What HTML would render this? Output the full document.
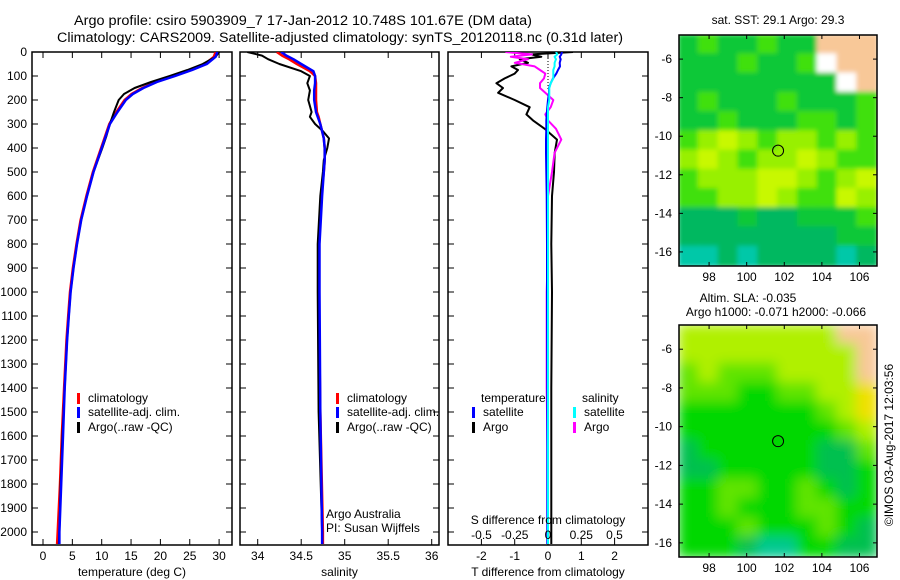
<!DOCTYPE html>
<html><head><meta charset="utf-8"><style>
body{margin:0;background:#fff;}
svg{display:block;font-family:"Liberation Sans",sans-serif;}
text{font-size:12px;fill:#000;}
</style></head><body>
<svg id="chart" width="900" height="580" viewBox="0 0 900 580" xmlns="http://www.w3.org/2000/svg">
<defs>
<filter id="blur1"><feGaussianBlur stdDeviation="2.5"/></filter>
<filter id="blur2"><feGaussianBlur stdDeviation="6"/></filter>
<clipPath id="c1"><rect x="32" y="52" width="200" height="493"/></clipPath>
<clipPath id="c2"><rect x="240" y="52" width="199" height="493"/></clipPath>
<clipPath id="c3"><rect x="448" y="52" width="200" height="493"/></clipPath>
<clipPath id="m1"><rect x="679" y="35" width="198" height="231"/></clipPath>
<clipPath id="m2"><rect x="679" y="325" width="198" height="232"/></clipPath>
</defs>
<text x="74" y="25" textLength="458" lengthAdjust="spacingAndGlyphs" style="font-size:13.5px">Argo profile: csiro 5903909_7 17-Jan-2012 10.748S 101.67E (DM data)</text>
<text x="57" y="42" textLength="566" lengthAdjust="spacingAndGlyphs" style="font-size:13.5px">Climatology: CARS2009. Satellite-adjusted climatology: synTS_20120118.nc (0.31d later)</text>
<g id="p1"></g>
<g id="p2"></g>
<g id="p3"></g>
<g id="maps"></g>
<text transform="translate(893,445) rotate(-90)" text-anchor="middle">©IMOS 03-Aug-2017 12:03:56</text>
</svg>
<script>
// ---- data ----
const depthTicks=[0,100,200,300,400,500,600,700,800,900,1000,1100,1200,1300,1400,1500,1600,1700,1800,1900,2000];
const tempTicks=[0,5,10,15,20,25,30];
const salTicks=[34,34.5,35,35.5,36];
const tdTicks=[-2,-1,0,1,2];
const sdTicks=[-0.5,-0.25,0,0.25,0.5];
const sdTickLabels=["-0.5","-0.25","0","0.25","0.5"];

const tDepth=[0,20,50,75,100,125,150,175,200,250,300,350,400,500,600,700,800,900,1000,1100,1200,1400,1600,1800,2000,2050];
const climT=[29.4,29.1,27.6,25.2,22.2,19.2,16.9,15.1,13.9,12.5,11.3,10.6,9.9,8.5,7.4,6.4,5.7,5.1,4.6,4.3,4.0,3.6,3.2,2.9,2.5,2.4];
const satT=[29.7,29.4,27.9,25.4,22.5,19.4,17.1,15.3,14.1,12.7,11.4,10.7,10.0,8.6,7.5,6.5,5.8,5.2,4.7,4.4,4.1,3.7,3.4,3.1,2.8,2.8];
const argoT=[30.0,29.4,27.2,24.6,21.6,18.4,15.6,13.8,12.9,12.1,11.4,10.8,10.1,8.6,7.5,6.5,5.8,5.2,4.7,4.4,4.1,3.7,3.3,3.0,2.8,2.7];

const sDepth=[0,15,30,50,80,100,130,160,200,250,270,300,330,360,400,450,500,600,800,1000,1500,2000,2050];
const climS=[34.22,34.28,34.36,34.45,34.6,34.66,34.67,34.67,34.67,34.68,34.7,34.72,34.74,34.76,34.77,34.77,34.76,34.73,34.7,34.7,34.72,34.75,34.75];
const satS=[34.27,34.33,34.41,34.5,34.64,34.66,34.66,34.65,34.65,34.67,34.69,34.72,34.74,34.76,34.77,34.77,34.76,34.74,34.71,34.71,34.72,34.74,34.74];
const argoS=[33.88,34.05,34.12,34.25,34.5,34.6,34.57,34.6,34.58,34.62,34.6,34.66,34.75,34.82,34.8,34.76,34.75,34.72,34.69,34.69,34.7,34.74,34.74];

const dDepth=[0,10,20,30,45,60,75,90,110,130,150,170,200,230,260,285,320,365,420,500,600,800,1000,1400,1800,2050];
const argoTd=[0.75,-0.5,-0.2,-0.85,-0.6,-1.1,-0.9,-1.0,-1.3,-1.55,-1.35,-1.5,-1.0,-0.55,-0.65,-0.45,-0.1,0.27,0.2,0.18,0.12,0.1,0.12,0.1,0.1,0.1];
const satTd=[0.42,0.4,0.35,0.38,0.35,0.36,0.3,0.25,0.15,0.08,0.03,0.03,0.0,-0.02,-0.04,-0.05,-0.05,-0.06,-0.06,-0.05,-0.04,-0.03,-0.03,-0.02,-0.02,-0.02];
const argoSd=[-0.32,-0.12,-0.28,-0.15,-0.25,-0.1,-0.06,-0.02,-0.03,-0.06,-0.06,-0.02,0.04,0.02,-0.02,0.0,0.06,0.1,0.05,0.03,0.0,0.0,-0.01,-0.01,0.0,0.0];
const satSd=[0.06,0.07,0.05,0.06,0.05,0.05,0.04,0.04,0.04,0.02,0.01,0.01,0.01,0.0,0.0,0.0,0.0,0.0,0.0,0.0,0.0,0.0,0.0,0.0,0.0,0.0];

const sstGrid=["abaabaaLLL","aaabaabwLL","aaaaaaaawL","abaaabaaab","aabaaabbab","bcdcbccbcb","cdcbccdcbb","bcccddcbcd","bbccdcbbdc","eeeaeeaaab","eeeeeeeeaa","ffefeeeefe"];
const slaGrid=["ccccccccLL","cccccccccL","bcbbbccccL","bbbaabbccy","aaaaaaabcy","aaaaaaaabc","eaaaaaaeeb","eeaaaaaeea","aabbaabaea","aabaaabbaa","aaabaaabae","aaaeffaaee"];
const lonTicks=[98,100,102,104,106];
const latTicks=[-6,-8,-10,-12,-14,-16];
const argoLon=101.67, argoLat=-10.748;

// ---- helpers ----
const NS="http://www.w3.org/2000/svg";
function mk(tag,attrs,parent){const e=document.createElementNS(NS,tag);for(const k in attrs)e.setAttribute(k,attrs[k]);parent.appendChild(e);return e;}
const yD=d=>52+0.24*d;
const xT=t=>43+5.87*t;
const xS=s=>257.7+87*(s-34);
const xTd=t=>548+33.3*t;
const xSd=s=>548+133*s;

function frame(g,x0,x1,ticksX,fx,labels,xlabel){
  const r=mk('rect',{x:x0,y:52,width:x1-x0,height:493,fill:'none',stroke:'#000','stroke-width':1.5},g);
  
  
  depthTicks.forEach(d=>{
    mk('line',{x1:x0,x2:x0+6,y1:yD(d),y2:yD(d),stroke:'#000'},g);
    mk('line',{x1:x1-6,x2:x1,y1:yD(d),y2:yD(d),stroke:'#000'},g);
  });
  ticksX.forEach((v,i)=>{
    const x=fx(v);
    mk('line',{x1:x,x2:x,y1:545,y2:539,stroke:'#000'},g);
    mk('line',{x1:x,x2:x,y1:52,y2:58,stroke:'#000'},g);
    if(labels){const t=mk('text',{x:x,y:560,'text-anchor':'middle'},g);t.textContent=labels[i];
      
      }
  });
  const t=mk('text',{x:(x0+x1)/2,y:576,'text-anchor':'middle'},g);t.textContent=xlabel;
  
  
}
function line(g,clip,xs,ds,fx,color,w,name){
  const pts=xs.map((v,i)=>fx(v).toFixed(1)+','+yD(ds[i]).toFixed(1)).join(' ');
  const p=mk('polyline',{points:pts,fill:'none',stroke:color,'stroke-width':w,'clip-path':'url(#'+clip+')','stroke-linejoin':'round'},g);
  
  
}
function legendItem(g,x,y,color,label,name){
  mk('rect',{x:x,y:y-9,width:3,height:11,fill:color},g);
  const t=mk('text',{x:x+11,y:y},g);t.textContent=label;
  
  
}

// ---- panel 1 ----
const p1=document.getElementById('p1');
frame(p1,32,232,tempTicks,xT,tempTicks.map(String),'temperature (deg C)');
depthTicks.forEach(d=>{const t=mk('text',{x:27,y:yD(d)+4,'text-anchor':'end'},p1);t.textContent=d;
  
  });
line(p1,'c1',climT,tDepth,xT,'#f00',2.5,'climatology-temperature-line');
line(p1,'c1',argoT,tDepth,xT,'#000',2,'argo-temperature-line');
line(p1,'c1',satT,tDepth,xT,'#00f',2.5,'satellite-temperature-line');
legendItem(p1,77,402,'#f00','climatology','legend-climatology');
legendItem(p1,77,416,'#00f','satellite-adj. clim.','legend-satellite');
legendItem(p1,77,431,'#000','Argo(..raw -QC)','legend-argo');

// ---- panel 2 ----
const p2=document.getElementById('p2');
frame(p2,240,439,salTicks,xS,salTicks.map(String),'salinity');
line(p2,'c2',climS,sDepth,xS,'#f00',2.5,'climatology-salinity-line');
line(p2,'c2',argoS,sDepth,xS,'#000',2,'argo-salinity-line');
line(p2,'c2',satS,sDepth,xS,'#00f',2.5,'satellite-salinity-line');
legendItem(p2,336,402,'#f00','climatology','legend-climatology');
legendItem(p2,336,416,'#00f','satellite-adj. clim.','legend-satellite');
legendItem(p2,336,431,'#000','Argo(..raw -QC)','legend-argo');
let tt=mk('text',{x:326,y:518},p2);tt.textContent='Argo Australia';


tt=mk('text',{x:326,y:532},p2);tt.textContent='PI: Susan Wijffels';



// ---- panel 3 ----
const p3=document.getElementById('p3');
frame(p3,448,648,tdTicks,xTd,tdTicks.map(String),'T difference from climatology');
mk('line',{x1:548,x2:548,y1:52,y2:90,stroke:'#000','stroke-dasharray':'1,2'},p3);
line(p3,'c3',argoTd,dDepth,xTd,'#000',2,'argo-t-difference-line');
line(p3,'c3',argoSd,dDepth,xSd,'#f0f',2,'argo-s-difference-line');
line(p3,'c3',satTd,dDepth,xTd,'#00f',2,'satellite-t-difference-line');
line(p3,'c3',satSd,dDepth,xSd,'#0ff',2,'satellite-s-difference-line');
tt=mk('text',{x:481,y:402},p3);tt.textContent='temperature';


tt=mk('text',{x:582,y:402},p3);tt.textContent='salinity';


legendItem(p3,472,416,'#00f','satellite','legend-t-satellite');
legendItem(p3,472,431,'#000','Argo','legend-t-argo');
legendItem(p3,573,416,'#0ff','satellite','legend-s-satellite');
legendItem(p3,573,431,'#f0f','Argo','legend-s-argo');
tt=mk('text',{x:548,y:524,'text-anchor':'middle'},p3);tt.textContent='S difference from climatology';


sdTicks.forEach((v,i)=>{const t=mk('text',{x:xSd(v),y:539,'text-anchor':'middle'},p3);t.textContent=sdTickLabels[i];
  
  });

// ---- maps ----
const maps=document.getElementById('maps');
const lonX=l=>679+(l-96.4)*18.8;
const sstCol={a:'#10c838',b:'#40e010',c:'#98f000',d:'#c8f800',e:'#00b860',f:'#00c8a8',L:'#f8c898',w:'#ffffff',g:'#00d000',y:'#f0e000'};
const slaCol={a:'#00d800',b:'#60e400',c:'#b0f000',e:'#00c050',f:'#00c890',L:'#f8c898',g:'#00d000',y:'#f0e000'};
function drawMap(grid,cols,top,h,clip,blur,name){
  const g=mk('g',{'clip-path':'url(#'+clip+')'},maps);
  
  
  const inner=mk('g',{filter:'url(#'+blur+')'},g);
  const cw=198/10,ch=h/grid.length;
  grid.forEach((row,r)=>{for(let c=0;c<row.length;c++){
    mk('rect',{x:679+c*cw-1,y:top+r*ch-1,width:cw+2,height:ch+2,fill:cols[row[c]]},inner);}});
  const latY=l=>top+(-4.75-l)*(h/11.98);
  mk('circle',{cx:lonX(argoLon),cy:latY(argoLat),r:5.5,fill:'none',stroke:'#000'},g);
  const fr=mk('rect',{x:679,y:top,width:198,height:h,fill:'none',stroke:'#000','stroke-width':1.5},maps);
  
  
  lonTicks.forEach(l=>{const x=lonX(l);
    mk('line',{x1:x,x2:x,y1:top,y2:top+4,stroke:'#000'},maps);
    mk('line',{x1:x,x2:x,y1:top+h,y2:top+h-4,stroke:'#000'},maps);
    const t=mk('text',{x:x,y:top+h+15,'text-anchor':'middle'},maps);t.textContent=l;
    
    });
  latTicks.forEach(l=>{const y=latY(l);
    mk('line',{x1:679,x2:683,y1:y,y2:y,stroke:'#000'},maps);
    mk('line',{x1:873,x2:877,y1:y,y2:y,stroke:'#000'},maps);
    const t=mk('text',{x:672,y:y+4,'text-anchor':'end'},maps);t.textContent=l;
    
    });
}
drawMap(sstGrid,sstCol,35,231,'m1','blur1','sst-map');
drawMap(slaGrid,slaCol,325,232,'m2','blur2','sla-map');
tt=mk('text',{x:778,y:24,'text-anchor':'middle'},maps);tt.textContent='sat. SST: 29.1  Argo: 29.3';


tt=mk('text',{x:748,y:302,'text-anchor':'middle'},maps);tt.textContent='Altim. SLA: -0.035';


tt=mk('text',{x:776,y:316,'text-anchor':'middle'},maps);tt.textContent='Argo h1000: -0.071 h2000: -0.066';


</script>
</body></html>
